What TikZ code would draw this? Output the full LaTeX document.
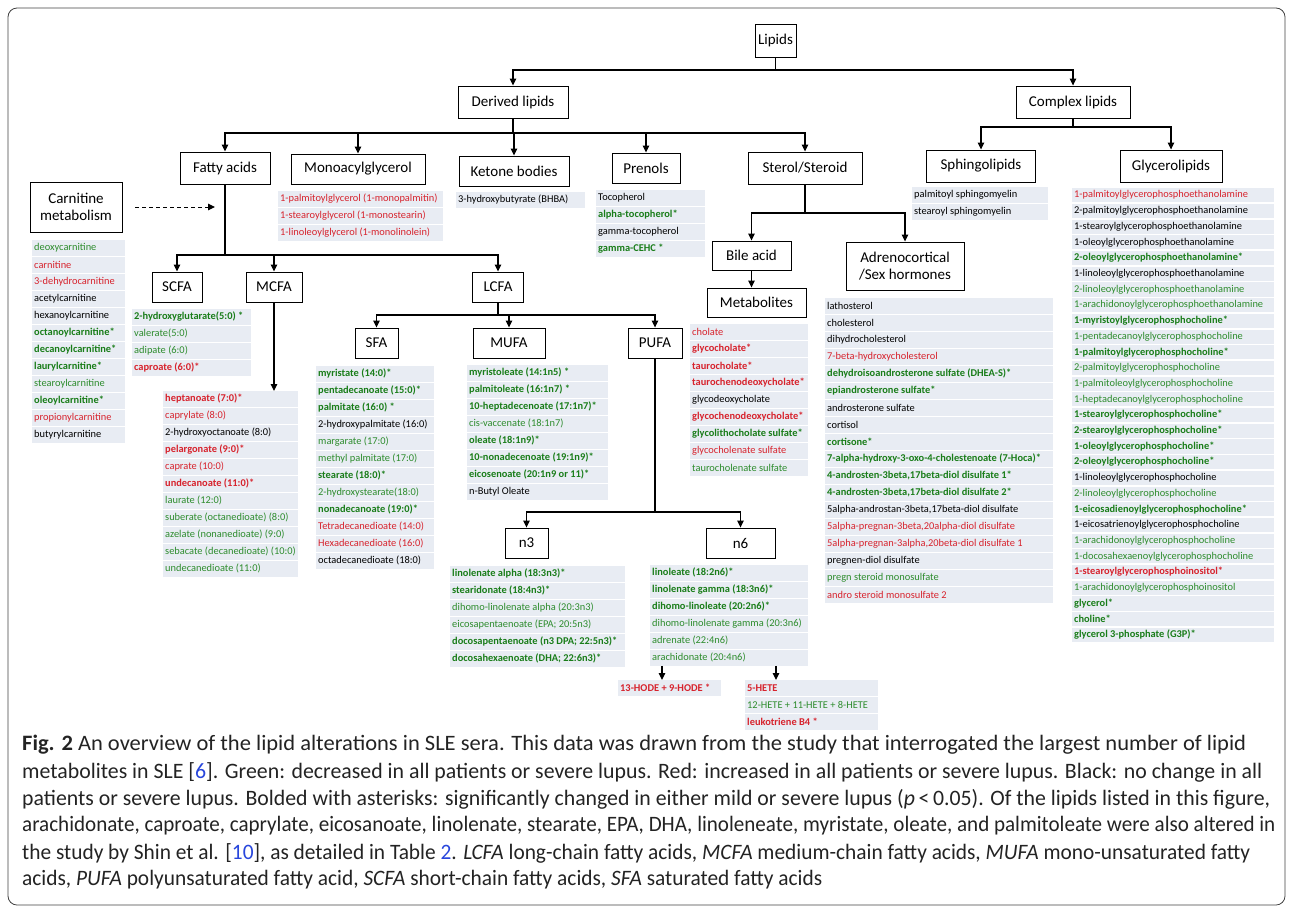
\documentclass[tikz,border=0pt]{standalone}
\usepackage{fontspec}
\usepackage{graphicx}
\setmainfont{Carlito}
\usetikzlibrary{arrows.meta}
\definecolor{gr}{RGB}{45,140,45}
\definecolor{gd}{RGB}{25,125,25}
\definecolor{rd}{RGB}{215,35,45}
\definecolor{rowbg}{RGB}{232,236,243}
\definecolor{lnk}{RGB}{40,70,220}
\definecolor{captxt}{RGB}{35,35,35}
\newcount\rowi
\newcommand\lfit[2]{\setbox0=\hbox{#2}\ifdim\wd0>#1pt\relax\pgfmathsetmacro\fsc{#1/\the\wd0}\scalebox{\fsc}[1]{\box0}\else\box0\fi}
\newcommand\lst[5]{\gdef\lname{#1}\gdef\lx{#2}\gdef\ly{#3}\gdef\lw{#4}\gdef\lp{#5}\global\rowi=0\relax}
\newcommand\ri[2]{%
 \pgfmathsetmacro\ry{\ly+\the\rowi*\lp}%
 \pgfmathsetmacro\tw{\lw-4}%
 \pgfmathsetmacro\rh{\lp-1.6}%
 \node[row, minimum height=\rh pt, #1] (\lname\the\rowi) at (\lx,\ry) {\makebox[\tw pt][l]{\lfit{\tw}{#2}}};%
 \global\advance\rowi by 1\relax}
\newcommand\fitw[2]{\setbox0=\hbox{#2}\pgfmathsetmacro\fsc{#1/\the\wd0}\scalebox{\fsc}[1]{\box0}}
\tikzset{
 box/.style={draw, line width=0.9pt, fill=white, font=\fontsize{15}{17}\selectfont, inner sep=0pt, align=center},
 arr/.style={line width=1.1pt, -{Triangle[length=7pt,width=6.5pt]}},
 dasharr/.style={line width=1pt, dash pattern=on 4pt off 3pt, -{Triangle[length=7pt,width=6.5pt]}},
 row/.style={anchor=north west, fill=rowbg, inner xsep=2pt, inner ysep=0pt, font=\fontsize{10.4}{12}\selectfont},
 ck/.style={text=black}, cg/.style={text=gr}, cr/.style={text=rd},
 cgb/.style={text=gd, font=\fontsize{10.4}{12}\selectfont\bfseries},
 crb/.style={text=rd, font=\fontsize{10.4}{12}\selectfont\bfseries},
 frame/.style={draw=black!75, line width=0.8pt, rounded corners=9pt},
 capline/.style={anchor=west, inner sep=0pt, text=captxt, font=\fontsize{22}{26}\selectfont}
}
\begin{document}
\begin{tikzpicture}[x=1pt,y=-1pt]
\useasboundingbox (0,0) rectangle (1292,908);
\draw[frame] (8,8) rectangle (1285,905);
% boxes
\node[box,minimum width=41,minimum height=33] (lipids) at (775.5,40.5) {Lipids};
\node[box,minimum width=110,minimum height=32] (derived) at (513,102) {Derived lipids};
\node[box,minimum width=114,minimum height=32] (complex) at (1073,102) {Complex lipids};
\node[box,minimum width=90,minimum height=32] (fatty) at (225,168) {Fatty acids};
\node[box,minimum width=134,minimum height=30] (mono) at (358,169) {Monoacylglycerol};
\node[box,minimum width=110,minimum height=30] (ketone) at (514,171) {Ketone bodies};
\node[box,minimum width=68,minimum height=30] (prenols) at (646,168) {Prenols};
\node[box,minimum width=114,minimum height=32] (sterol) at (805,168) {Sterol/Steroid};
\node[box,minimum width=109,minimum height=32] (sphingo) at (981,166) {Sphingolipids};
\node[box,minimum width=102,minimum height=32] (glycero) at (1171,166) {Glycerolipids};
\node[box,minimum width=92,minimum height=50] (carn) at (76,207) {Carnitine\\metabolism};
\node[box,minimum width=50,minimum height=30] (scfa) at (177,287) {SCFA};
\node[box,minimum width=56,minimum height=30] (mcfa) at (274,287) {MCFA};
\node[box,minimum width=51,minimum height=30] (lcfa) at (498,287) {LCFA};
\node[box,minimum width=43,minimum height=30] (sfa) at (376.5,343) {SFA};
\node[box,minimum width=72,minimum height=30] (mufa) at (509,343) {MUFA};
\node[box,minimum width=54,minimum height=30] (pufa) at (655,343) {PUFA};
\node[box,minimum width=43,minimum height=30] (n3) at (526.5,543) {n3};
\node[box,minimum width=69,minimum height=30] (n6) at (740.5,543) {n6};
\node[box,minimum width=79,minimum height=29] (bile) at (751.5,255.5) {Bile acid};
\node[box,minimum width=99,minimum height=29] (metab) at (756.5,302.5) {Metabolites};
\node[box,minimum width=118,minimum height=48] (adreno) at (905,266) {Adrenocortical\\/Sex hormones};
% lists
\lst{carnl}{32}{240}{93}{17}
\ri{cg}{deoxycarnitine}
\ri{cr}{carnitine}
\ri{cr}{3-dehydrocarnitine}
\ri{ck}{acetylcarnitine}
\ri{ck}{hexanoylcarnitine}
\ri{cgb}{octanoylcarnitine*}
\ri{cgb}{decanoylcarnitine*}
\ri{cgb}{laurylcarnitine*}
\ri{cg}{stearoylcarnitine}
\ri{cgb}{oleoylcarnitine*}
\ri{cr}{propionylcarnitine}
\ri{ck}{butyrylcarnitine}
\lst{scfal}{132}{309}{119}{17}
\ri{cgb}{2-hydroxyglutarate(5:0) *}
\ri{cg}{valerate(5:0)}
\ri{cg}{adipate (6:0)}
\ri{crb}{caproate (6:0)*}
\lst{mcfal}{163}{391}{135}{17}
\ri{crb}{heptanoate (7:0)*}
\ri{cr}{caprylate (8:0)}
\ri{ck}{2-hydroxyoctanoate (8:0)}
\ri{crb}{pelargonate (9:0)*}
\ri{cr}{caprate (10:0)}
\ri{crb}{undecanoate (11:0)*}
\ri{cg}{laurate (12:0)}
\ri{cg}{suberate (octanedioate) (8:0)}
\ri{cg}{azelate (nonanedioate) (9:0)}
\ri{cg}{sebacate (decanedioate) (10:0)}
\ri{cg}{undecanedioate (11:0)}
\lst{sfal}{316}{366}{118}{17}
\ri{cgb}{myristate (14:0)*}
\ri{cgb}{pentadecanoate (15:0)*}
\ri{cgb}{palmitate (16:0) *}
\ri{ck}{2-hydroxypalmitate (16:0)}
\ri{cg}{margarate (17:0)}
\ri{cg}{methyl palmitate (17:0)}
\ri{cgb}{stearate (18:0)*}
\ri{cg}{2-hydroxystearate(18:0)}
\ri{cgb}{nonadecanoate (19:0)*}
\ri{cr}{Tetradecanedioate (14:0)}
\ri{cr}{Hexadecanedioate (16:0)}
\ri{ck}{octadecanedioate (18:0)}
\lst{mufal}{467}{365}{141}{17}
\ri{cgb}{myristoleate (14:1n5) *}
\ri{cgb}{palmitoleate (16:1n7) *}
\ri{cgb}{10-heptadecenoate (17:1n7)*}
\ri{cg}{cis-vaccenate (18:1n7)}
\ri{cgb}{oleate (18:1n9)*}
\ri{cgb}{10-nonadecenoate (19:1n9)*}
\ri{cgb}{eicosenoate (20:1n9 or 11)*}
\ri{ck}{n-Butyl Oleate}
\lst{monol}{278}{191}{165}{17}
\ri{cr}{1-palmitoylglycerol (1-monopalmitin)}
\ri{cr}{1-stearoylglycerol (1-monostearin)}
\ri{cr}{1-linoleoylglycerol (1-monolinolein)}
\lst{ketl}{456}{192}{129}{17}
\ri{ck}{3-hydroxybutyrate (BHBA)}
\lst{prel}{596}{190}{109}{17}
\ri{ck}{Tocopherol}
\ri{cgb}{alpha-tocopherol*}
\ri{ck}{gamma-tocopherol}
\ri{cgb}{gamma-CEHC *}
\lst{sphl}{912}{187}{136}{17}
\ri{ck}{palmitoyl sphingomyelin}
\ri{ck}{stearoyl sphingomyelin}
\lst{glyl}{1072}{188}{202}{15.7}
\ri{cr}{1-palmitoylglycerophosphoethanolamine}
\ri{ck}{2-palmitoylglycerophosphoethanolamine}
\ri{ck}{1-stearoylglycerophosphoethanolamine}
\ri{ck}{1-oleoylglycerophosphoethanolamine}
\ri{cgb}{2-oleoylglycerophosphoethanolamine*}
\ri{ck}{1-linoleoylglycerophosphoethanolamine}
\ri{cg}{2-linoleoylglycerophosphoethanolamine}
\ri{cg}{1-arachidonoylglycerophosphoethanolamine}
\ri{cgb}{1-myristoylglycerophosphocholine*}
\ri{cg}{1-pentadecanoylglycerophosphocholine}
\ri{cgb}{1-palmitoylglycerophosphocholine*}
\ri{cg}{2-palmitoylglycerophosphocholine}
\ri{cg}{1-palmitoleoylglycerophosphocholine}
\ri{cg}{1-heptadecanoylglycerophosphocholine}
\ri{cgb}{1-stearoylglycerophosphocholine*}
\ri{cgb}{2-stearoylglycerophosphocholine*}
\ri{cgb}{1-oleoylglycerophosphocholine*}
\ri{cgb}{2-oleoylglycerophosphocholine*}
\ri{ck}{1-linoleoylglycerophosphocholine}
\ri{cg}{2-linoleoylglycerophosphocholine}
\ri{cgb}{1-eicosadienoylglycerophosphocholine*}
\ri{ck}{1-eicosatrienoylglycerophosphocholine}
\ri{cg}{1-arachidonoylglycerophosphocholine}
\ri{cg}{1-docosahexaenoylglycerophosphocholine}
\ri{crb}{1-stearoylglycerophosphoinositol*}
\ri{cg}{1-arachidonoylglycerophosphoinositol}
\ri{cgb}{glycerol*}
\ri{cgb}{choline*}
\ri{cgb}{glycerol 3-phosphate (G3P)*}
\lst{metl}{690}{324}{118}{17}
\ri{cr}{cholate}
\ri{crb}{glycocholate*}
\ri{crb}{taurocholate*}
\ri{crb}{taurochenodeoxycholate*}
\ri{ck}{glycodeoxycholate}
\ri{crb}{glycochenodeoxycholate*}
\ri{cgb}{glycolithocholate sulfate*}
\ri{cr}{glycocholenate sulfate}
\ri{cg}{taurocholenate sulfate}
\lst{adrl}{825}{298}{228}{17}
\ri{ck}{lathosterol}
\ri{ck}{cholesterol}
\ri{ck}{dihydrocholesterol}
\ri{cr}{7-beta-hydroxycholesterol}
\ri{cgb}{dehydroisoandrosterone sulfate (DHEA-S)*}
\ri{cgb}{epiandrosterone sulfate*}
\ri{ck}{androsterone sulfate}
\ri{ck}{cortisol}
\ri{cgb}{cortisone*}
\ri{cgb}{7-alpha-hydroxy-3-oxo-4-cholestenoate (7-Hoca)*}
\ri{cgb}{4-androsten-3beta,17beta-diol disulfate 1*}
\ri{cgb}{4-androsten-3beta,17beta-diol disulfate 2*}
\ri{ck}{5alpha-androstan-3beta,17beta-diol disulfate}
\ri{cr}{5alpha-pregnan-3beta,20alpha-diol disulfate}
\ri{cr}{5alpha-pregnan-3alpha,20beta-diol disulfate 1}
\ri{ck}{pregnen-diol disulfate}
\ri{cg}{pregn steroid monosulfate}
\ri{cr}{andro steroid monosulfate 2}
\lst{n3l}{450}{566}{175}{17}
\ri{cgb}{linolenate alpha (18:3n3)*}
\ri{cgb}{stearidonate (18:4n3)*}
\ri{cg}{dihomo-linolenate alpha (20:3n3)}
\ri{cg}{eicosapentaenoate (EPA; 20:5n3)}
\ri{cgb}{docosapentaenoate (n3 DPA; 22:5n3)*}
\ri{cgb}{docosahexaenoate (DHA; 22:6n3)*}
\lst{n6l}{650}{565}{158}{17}
\ri{cgb}{linoleate (18:2n6)*}
\ri{cgb}{linolenate gamma (18:3n6)*}
\ri{cgb}{dihomo-linoleate (20:2n6)*}
\ri{cg}{dihomo-linolenate gamma (20:3n6)}
\ri{cg}{adrenate (22:4n6)}
\ri{cg}{arachidonate (20:4n6)}
\lst{hode}{618}{680}{103}{17}
\ri{crb}{13-HODE + 9-HODE *}
\lst{hete}{745}{680}{133}{17}
\ri{crb}{5-HETE}
\ri{cg}{12-HETE + 11-HETE + 8-HETE}
\ri{crb}{leukotriene B4 *}
% connectors
\draw[arr] (lipids.south) -- (lipids.south |- 0,70) -| (derived.north);
\draw[arr] (lipids.south) -- (lipids.south |- 0,70) -| (complex.north);
\foreach \t in {fatty,mono,ketone,prenols,sterol}
  \draw[arr] (derived.south) -- (derived.south |- 0,133) -| (\t.north);
\foreach \t in {sphingo,glycero}
  \draw[arr] (complex.south) -- (complex.south |- 0,127) -| (\t.north);
\foreach \t in {scfa,mcfa,lcfa}
  \draw[arr] (fatty.south) -- (fatty.south |- 0,255) -| (\t.north);
\foreach \t in {sfa,mufa,pufa}
  \draw[arr] (lcfa.south) -- (lcfa.south |- 0,315) -| (\t.north);
\foreach \t in {n3,n6}
  \draw[arr] (pufa.south) -- (pufa.south |- 0,512) -| (\t.north);
\foreach \t in {bile,adreno}
  \draw[arr] (sterol.south) -- (sterol.south |- 0,213) -| (\t.north);
\draw[arr] (bile.south) -- (bile.south |- metab.north);
\draw[arr] (mcfa.south) -- (mcfa.south |- mcfal0.north);
\coordinate (dashend) at (215,207);
\draw[dasharr] ([xshift=13pt]carn.east) -- (dashend);
\coordinate (ax1) at (662,0);
\coordinate (ax2) at (776,0);
\draw[arr] (ax1 |- n6l5.south) -- (ax1 |- hode0.north);
\draw[arr] (ax2 |- n6l5.south) -- (ax2 |- hete0.north);
% caption
\node[capline] (cap1) at (22,745) {\fitw{1224}{\textbf{Fig. 2} An overview of the lipid alterations in SLE sera. This data was drawn from the study that interrogated the largest number of lipid}};
\node[capline] (cap2) at (22,772) {\fitw{1240}{metabolites in SLE [\textcolor{lnk}{6}]. Green: decreased in all patients or severe lupus. Red: increased in all patients or severe lupus. Black: no change in all}};
\node[capline] (cap3) at (22,799) {\fitw{1248}{patients or severe lupus. Bolded with asterisks: significantly changed in either mild or severe lupus (\textit{p}\,<\,0.05). Of the lipids listed in this figure,}};
\node[capline] (cap4) at (22,826) {\fitw{1253}{arachidonate, caproate, caprylate, eicosanoate, linolenate, stearate, EPA, DHA, linoleneate, myristate, oleate, and palmitoleate were also altered in}};
\node[capline] (cap5) at (22,853) {\fitw{1228}{the study by Shin et al. [\textcolor{lnk}{10}], as detailed in Table \textcolor{lnk}{2}. \textit{LCFA} long-chain fatty acids, \textit{MCFA} medium-chain fatty acids, \textit{MUFA} mono-unsaturated fatty}};
\node[capline] (cap6) at (22,880) {\fitw{800}{acids, \textit{PUFA} polyunsaturated fatty acid, \textit{SCFA} short-chain fatty acids, \textit{SFA} saturated fatty acids}};
\end{tikzpicture}
\end{document}
